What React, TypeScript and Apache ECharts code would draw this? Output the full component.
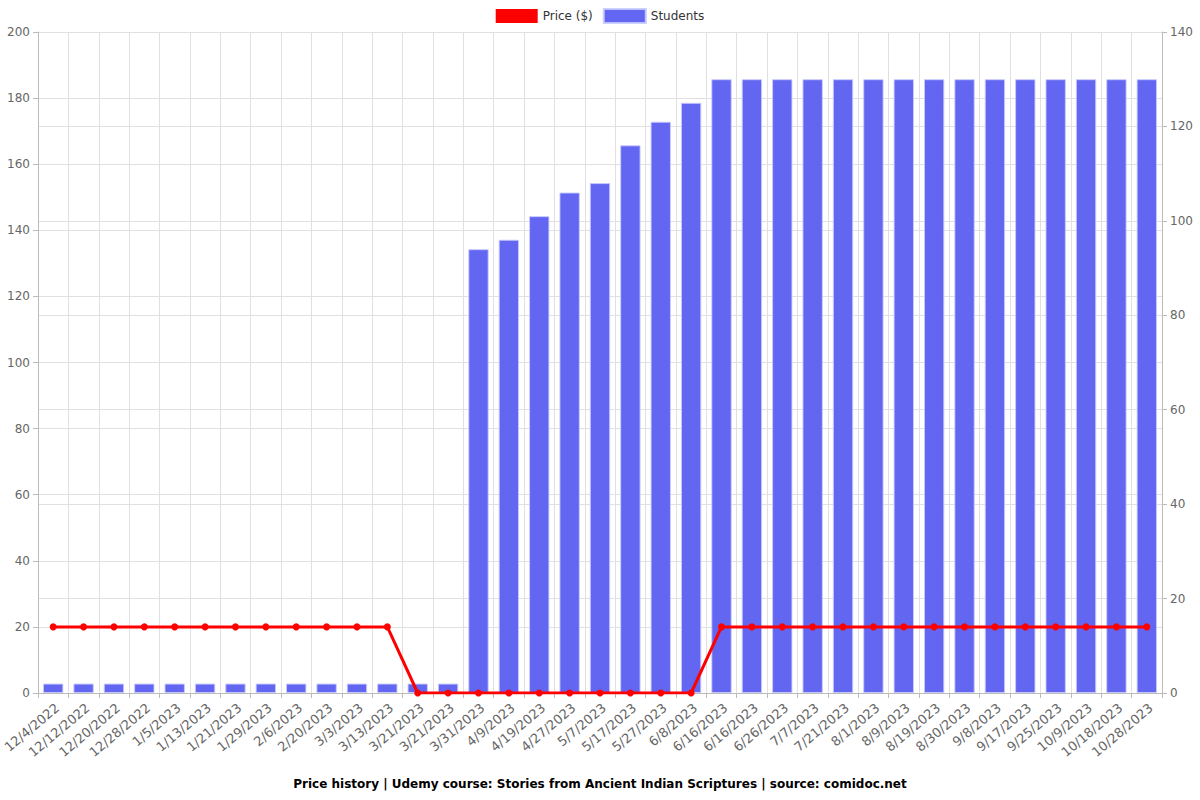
import React, { useEffect, useRef } from "react";
import * as echarts from "echarts";

const categories = [
  "12/4/2022", "12/12/2022", "12/20/2022", "12/28/2022", "1/5/2023", "1/13/2023",
  "1/21/2023", "1/29/2023", "2/6/2023", "2/20/2023", "3/3/2023", "3/13/2023",
  "3/21/2023", "3/21/2023", "3/31/2023", "4/9/2023", "4/19/2023", "4/27/2023",
  "5/7/2023", "5/17/2023", "5/27/2023", "6/8/2023", "6/16/2023", "6/16/2023",
  "6/26/2023", "7/7/2023", "7/21/2023", "8/1/2023", "8/9/2023", "8/19/2023",
  "8/30/2023", "9/8/2023", "9/17/2023", "9/25/2023", "10/9/2023", "10/18/2023",
  "10/28/2023",
];

const price = [
  20, 20, 20, 20, 20, 20, 20, 20, 20, 20, 20, 20,
  0, 0, 0, 0, 0, 0, 0, 0, 0, 0,
  20, 20, 20, 20, 20, 20, 20, 20, 20, 20, 20, 20, 20, 20, 20,
];

const students = [
  2, 2, 2, 2, 2, 2, 2, 2, 2, 2, 2, 2, 2, 2,
  94, 96, 101, 106, 108, 116, 121, 125,
  130, 130, 130, 130, 130, 130, 130, 130, 130, 130, 130, 130, 130, 130, 130,
];

const titleText =
  "Price history | Udemy course: Stories from Ancient Indian Scriptures | source: comidoc.net";

export default function App() {
  const ref = useRef<HTMLDivElement>(null);
  useEffect(() => {
    if (!ref.current) return;
    const chart = echarts.init(ref.current, null, { renderer: "svg" });
    const font = "DejaVu Sans";
    chart.setOption({
      animation: false,
      textStyle: { fontFamily: font },
      title: {
        text: titleText,
        left: "center",
        bottom: 5,
        textStyle: { fontSize: 12, fontWeight: "bold", color: "#000", fontFamily: font },
      },
      legend: {
        top: 3,
        left: "center",
        itemWidth: 42,
        itemHeight: 14,
        itemGap: 10,
        textStyle: { fontSize: 12, color: "#333", fontFamily: font },
        data: [
          { name: "Price ($)", icon: "rect", itemStyle: { color: "#ff0000" } },
          { name: "Students", icon: "rect", itemStyle: { color: "#6366f1" } },
        ],
      },
      grid: {
        left: 38,
        right: 38,
        top: 32,
        bottom: 107,
        containLabel: false,
        outerBoundsMode: "none",
      },
      xAxis: {
        type: "category",
        data: categories,
        axisLine: { lineStyle: { color: "#bbb" } },
        axisTick: { show: true, alignWithLabel: false, lineStyle: { color: "#bbb" } },
        splitLine: { show: true, lineStyle: { color: "#e0e0e0" } },
        axisLabel: {
          rotate: 40,
          color: "#666",
          fontSize: 13,
          interval: 0,
          margin: 8,
          verticalAlign: "top",
        },
      },
      yAxis: [
        {
          type: "value",
          min: 0,
          max: 200,
          interval: 20,
          axisLine: { show: true, lineStyle: { color: "#bbb" } },
          axisTick: { show: true, lineStyle: { color: "#bbb" } },
          splitLine: { show: true, lineStyle: { color: "#e0e0e0" } },
          axisLabel: { color: "#666", fontSize: 12 },
        },
        {
          type: "value",
          min: 0,
          max: 140,
          interval: 20,
          position: "right",
          axisLine: { show: true, lineStyle: { color: "#bbb" } },
          axisTick: { show: true, lineStyle: { color: "#bbb" } },
          splitLine: { show: true, lineStyle: { color: "#e0e0e0" } },
          axisLabel: { color: "#666", fontSize: 12 },
        },
      ],
      series: [
        {
          name: "Price ($)",
          type: "line",
          yAxisIndex: 0,
          data: price,
          z: 3,
          symbol: "circle",
          symbolSize: 7,
          lineStyle: { color: "#ff0000", width: 3 },
          itemStyle: { color: "#ff0000" },
        },
        {
          name: "Students",
          type: "bar",
          yAxisIndex: 1,
          data: students,
          z: 2,
          barCategoryGap: "33%",
          itemStyle: {
            color: "#6366f1",
            borderColor: "rgba(200,202,255,0.9)",
            borderWidth: 1,
          },
        },
      ],
    });
    return () => chart.dispose();
  }, []);
  return (
    <div
      ref={ref}
      style={{ position: "fixed", left: 0, top: 0, width: 1200, height: 800, background: "#fff" }}
    />
  );
}
